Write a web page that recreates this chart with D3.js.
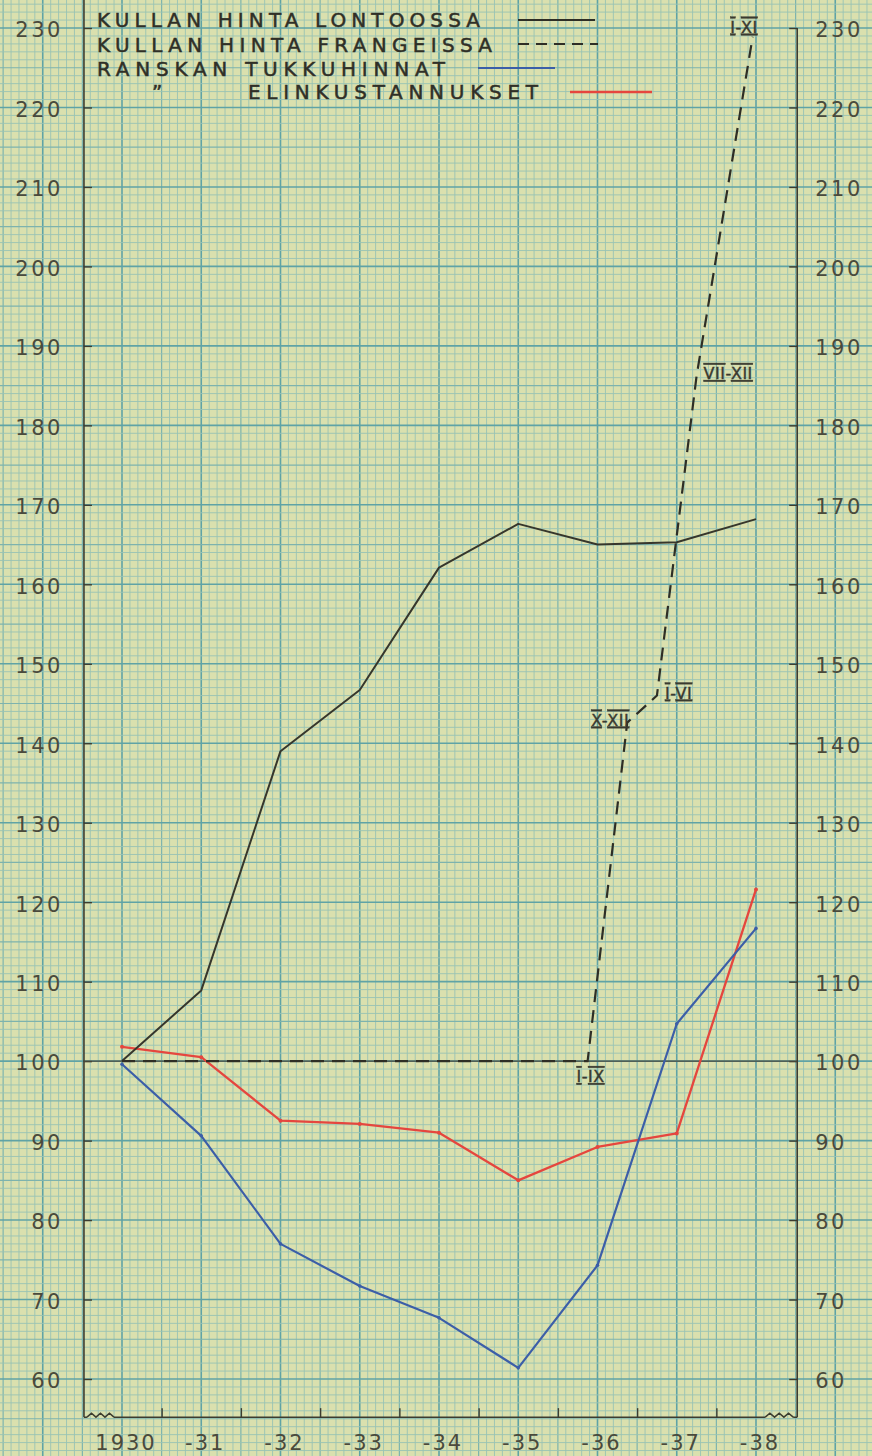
<!DOCTYPE html>
<html><head><meta charset="utf-8">
<script src="https://cdn.jsdelivr.net/npm/d3@7"></script>
<style>
html,body{margin:0;padding:0;background:#dae0ae;}
svg{display:block;}
</style></head>
<body>
<script>
// ---- data ----
const years = [1930, 1931, 1932, 1933, 1934, 1935, 1936, 1937, 1938];
const yearLabels = ["1930", "-31", "-32", "-33", "-34", "-35", "-36", "-37", "-38"];
const goldLondon = [100, 108.9, 139.0, 146.7, 162.1, 167.6, 165.0, 165.3, 168.2];
const wholesaleFrance = [99.6, 90.6, 77.0, 71.7, 67.7, 61.4, 74.3, 104.7, 116.7];
const costOfLiving = [101.8, 100.5, 92.5, 92.1, 91.0, 85.0, 89.2, 90.9, 121.6];
// gold price in francs: period midpoints (decimal years) and values
const goldFranceTime = [1930, 1935.875, 1936.375, 1936.75, 1937.25, 1937.958];
const goldFranceValues = [100, 100, 142.6, 146.0, 186.2, 228.9];
const goldFrancePeriods = ["", "I-IX", "X-XII", "I-VI", "VII-XII", "I-XI"];
const yTicks = [60, 70, 80, 90, 100, 110, 120, 130, 140, 150, 160, 170, 180, 190, 200, 210, 220, 230];
const legendLabels = ["KULLAN HINTA LONTOOSSA", "KULLAN HINTA FRANGEISSA", "RANSKAN TUKKUHINNAT", "ELINKUSTANNUKSET"];

const W = 872, H = 1456;
const x = d3.scaleLinear().domain([1930, 1938]).range([122, 756]);
const y = d3.scaleLinear().domain([60, 230]).range([1379, 28]);

const svg = d3.select("body").append("svg").attr("width", W).attr("height", H);
svg.append("rect").attr("width", W).attr("height", H).attr("fill", "#dae0ae");

// ---- graph paper grid ----
const grid = svg.append("g");
const gridColor = (heavy, med) => heavy ? "#5fa3a6" : med ? "#7db3ae" : "#98c3b4";
const gridWidth = (heavy, med) => heavy ? 1.6 : med ? 1.2 : 0.9;
const x0 = Math.ceil(x.invert(0) * 10), x1 = Math.floor(x.invert(W) * 10);
for (let i = x0; i <= x1; i++) {
  const heavy = i % 10 === 0, med = i % 5 === 0;
  grid.append("line").attr("x1", x(i / 10)).attr("x2", x(i / 10)).attr("y1", 0).attr("y2", H)
    .attr("stroke", gridColor(heavy, med)).attr("stroke-width", gridWidth(heavy, med));
}
const y0 = Math.ceil(y.invert(H)), y1 = Math.floor(y.invert(0));
for (let v = y0; v <= y1; v++) {
  const heavy = v % 10 === 0, med = v % 5 === 0;
  grid.append("line").attr("y1", y(v)).attr("y2", y(v)).attr("x1", 0).attr("x2", W)
    .attr("stroke", gridColor(heavy, med)).attr("stroke-width", gridWidth(heavy, med));
}

const ink = "#3c3c30";
const axL = x(1929.52), axR = x(1938.52), base = y(55.2);

// ---- axes ----
const gL = svg.append("g").attr("transform", `translate(${axL},0)`)
  .call(d3.axisLeft(y).tickValues(yTicks).tickSizeInner(-8).tickSizeOuter(0).tickPadding(21).tickFormat(d3.format("d")));
const gR = svg.append("g").attr("transform", `translate(${axR},0)`)
  .call(d3.axisRight(y).tickValues(yTicks).tickSizeInner(-8).tickSizeOuter(0).tickPadding(18).tickFormat(d3.format("d")));
[gL, gR].forEach(g => {
  g.select(".domain").remove();
  g.selectAll(".tick line").attr("stroke", ink).attr("stroke-width", 1.4);
  g.selectAll(".tick text").attr("fill", "#4a4a3c").attr("font-family", "DejaVu Sans, sans-serif")
    .attr("font-size", 21).attr("letter-spacing", 2.5).attr("dy", "0.42em");
});
const gB = svg.append("g").attr("transform", `translate(0,${base})`)
  .call(d3.axisBottom(x).tickValues(d3.range(1930.5, 1938, 1)).tickSizeInner(-9).tickSizeOuter(0).tickFormat(""));
gB.select(".domain").remove();
gB.selectAll(".tick line").attr("stroke", ink).attr("stroke-width", 1.4);

// axis lines
svg.append("line").attr("x1", axL).attr("x2", axL).attr("y1", 0).attr("y2", base).attr("stroke", ink).attr("stroke-width", 1.6);
svg.append("line").attr("x1", axR).attr("x2", axR).attr("y1", y(230)).attr("y2", base).attr("stroke", ink).attr("stroke-width", 1.6);
// baseline with wavy breaks
const wave = (xa, xb) => {
  const pts = [];
  const n = 6;
  for (let i = 0; i <= n; i++) pts.push([xa + (xb - xa) * i / n, base - (i % 2 ? 4 : 0)]);
  return pts;
};
const lineGen = d3.line();
svg.append("path").attr("d", lineGen([[axL, base], [axL + 3, base]]) + lineGen(wave(axL + 3, axL + 30)) + lineGen([[axL + 30, base], [axR - 32, base]]) + lineGen(wave(axR - 32, axR - 4)) + lineGen([[axR - 4, base], [axR, base]]))
  .attr("fill", "none").attr("stroke", ink).attr("stroke-width", 1.5);

// year labels
svg.append("g").selectAll("text").data(years).join("text")
  .attr("x", d => x(d) + 4).attr("y", base + 33)
  .attr("text-anchor", "middle").attr("fill", "#4a4a3c")
  .attr("font-family", "DejaVu Sans, sans-serif").attr("font-size", 21).attr("letter-spacing", 2)
  .text((d, i) => yearLabels[i]);

// reference line at 100
svg.append("line").attr("x1", axL).attr("x2", axR).attr("y1", y(100)).attr("y2", y(100))
  .attr("stroke", "#4a4a3c").attr("stroke-width", 1.3);

// ---- series ----
const line = d3.line().x(d => x(d[0])).y(d => y(d[1]));
svg.append("path").datum(years.map((t, i) => [t, costOfLiving[i]])).attr("d", line)
  .attr("fill", "none").attr("stroke", "#e5463e").attr("stroke-width", 2.3).attr("stroke-linejoin", "round");
svg.append("path").datum(years.map((t, i) => [t, wholesaleFrance[i]])).attr("d", line)
  .attr("fill", "none").attr("stroke", "#3c5ea8").attr("stroke-width", 2.2).attr("stroke-linejoin", "round");
svg.append("path").datum(years.map((t, i) => [t, goldLondon[i]])).attr("d", line)
  .attr("fill", "none").attr("stroke", "#36362c").attr("stroke-width", 2).attr("stroke-linejoin", "round");
svg.append("path").datum(goldFranceTime.map((t, i) => [t, goldFranceValues[i]])).attr("d", line)
  .attr("fill", "none").attr("stroke", "#2e2e26").attr("stroke-width", 2.2).attr("stroke-dasharray", "13,8");

// small point marks on red and blue
svg.append("g").selectAll("circle").data(years.map((t, i) => [t, costOfLiving[i]])).join("circle")
  .attr("cx", d => x(d[0])).attr("cy", d => y(d[1])).attr("r", 2).attr("fill", "#e5463e");
svg.append("g").selectAll("circle").data(years.map((t, i) => [t, wholesaleFrance[i]])).join("circle")
  .attr("cx", d => x(d[0])).attr("cy", d => y(d[1])).attr("r", 1.8).attr("fill", "#3c5ea8");

// period labels with bars over/under numerals
const labelPos = {
  "I-IX": {dx: 3, dy: 21, anchor: "middle"},
  "X-XII": {dx: 2, dy: 3, anchor: "end"},
  "I-VI": {dx: 8, dy: 3, anchor: "start"},
  "VII-XII": {dx: 7, dy: 3, anchor: "start"},
  "I-XI": {dx: 5, dy: -4, anchor: "end"}
};
goldFrancePeriods.forEach((p, i) => {
  if (!p) return;
  const o = labelPos[p];
  const t = svg.append("text").attr("x", x(goldFranceTime[i]) + o.dx).attr("y", y(goldFranceValues[i]) + o.dy)
    .attr("text-anchor", o.anchor).attr("fill", "#3a3a30").attr("stroke", "#3a3a30").attr("stroke-width", 0.4)
    .attr("font-family", "DejaVu Sans, sans-serif").attr("font-size", 16).attr("letter-spacing", 0.5);
  const parts = p.split("-");
  t.append("tspan").attr("text-decoration", "overline underline").text(parts[0]);
  t.append("tspan").text("-");
  t.append("tspan").attr("text-decoration", "overline underline").text(parts[1]);
});

// ---- legend ----
const lg = svg.append("g").attr("fill", "#2f2f27").attr("stroke", "#2f2f27").attr("stroke-width", 0.5)
  .attr("font-family", "DejaVu Sans, sans-serif").attr("font-size", 20);
lg.append("text").attr("x", 97).attr("y", 27).attr("textLength", 383).attr("lengthAdjust", "spacing").text(legendLabels[0]);
lg.append("text").attr("x", 97).attr("y", 52).attr("textLength", 395).attr("lengthAdjust", "spacing").text(legendLabels[1]);
lg.append("text").attr("x", 97).attr("y", 76).attr("textLength", 348).attr("lengthAdjust", "spacing").text(legendLabels[2]);
lg.append("text").attr("x", 152).attr("y", 99).text("\u201D");
lg.append("text").attr("x", 248).attr("y", 99).attr("textLength", 290).attr("lengthAdjust", "spacing").text(legendLabels[3]);
svg.append("line").attr("x1", 518).attr("x2", 595).attr("y1", 20).attr("y2", 20).attr("stroke", "#2e2e26").attr("stroke-width", 2);
svg.append("line").attr("x1", 518).attr("x2", 598).attr("y1", 44).attr("y2", 44).attr("stroke", "#2e2e26").attr("stroke-width", 2).attr("stroke-dasharray", "11,7");
svg.append("line").attr("x1", 478).attr("x2", 555).attr("y1", 68).attr("y2", 68).attr("stroke", "#3c5ea8").attr("stroke-width", 2.2);
svg.append("line").attr("x1", 570).attr("x2", 652).attr("y1", 92).attr("y2", 92).attr("stroke", "#e5463e").attr("stroke-width", 2.5);
</script>
</body></html>
